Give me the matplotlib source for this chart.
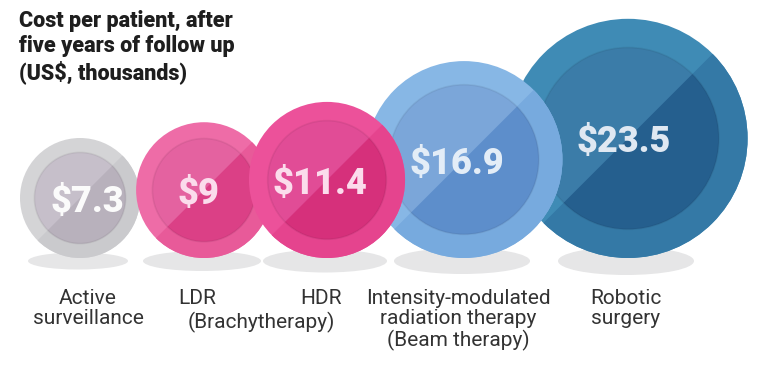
import matplotlib
matplotlib.use("Agg")
import matplotlib.pyplot as plt
from matplotlib.patches import Circle, Wedge, Ellipse
import numpy as np

# data
treatments = ["Active\nsurveillance", "LDR", "HDR",
              "Intensity-modulated\nradiation therapy\n(Beam therapy)",
              "Robotic\nsurgery"]
costs = [7.3, 9, 11.4, 16.9, 23.5]
value_labels = ["$7.3", "$9", "$11.4", "$16.9", "$23.5"]

# styles: (outer light, outer dark, inner light, inner dark, text)
styles = [
    ("#d4d4d6", "#cacacd", "#c6bfca", "#b8b1bc", "#fbfbfb"),
    ("#ee6ca7", "#e85a99", "#e462a0", "#db4086", "#fbdcec"),
    ("#ec519a", "#e5448e", "#e14c96", "#d6307b", "#fbdcec"),
    ("#87b7e5", "#77aade", "#7ba6d9", "#5d8ecb", "#e3edf7"),
    ("#3f8bb5", "#3479a6", "#3b7ca8", "#255f8e", "#dfe8f2"),
]
# layout (pixels)
centers_x = [80, 204, 327, 464, 628]
zorders = [1, 2, 5, 4, 3]
text_dx = [7, -6, -7, -7, -4]
shadow_w = [100, 118, 124, 136, 136]
shadow_h = [17, 20, 23, 26, 28]

fig = plt.figure(figsize=(7.67, 3.69), dpi=100)
ax = fig.add_axes([0, 0, 1, 1])
ax.set_xlim(0, 767)
ax.set_ylim(369, 0)
ax.axis("off")

base = 258


def radius(v):
    return 60 * (v / costs[0]) ** 0.59


for i, c in enumerate(costs):
    ax.add_patch(Ellipse((centers_x[i] - 2, 261), shadow_w[i], shadow_h[i],
                         facecolor="#e6e6e7", edgecolor="none", zorder=0))

for i, c in enumerate(costs):
    r = radius(c)
    cx, cy = centers_x[i], base - r
    o1, o2, i1, i2, tc = styles[i]
    z = zorders[i]
    # y axis inverted: display lower-right half is theta -45..135 here
    ax.add_patch(Circle((cx, cy), r, facecolor=o1, edgecolor="none", zorder=z))
    ax.add_patch(Wedge((cx, cy), r, -45, 135, facecolor=o2, edgecolor="none", zorder=z))
    ri = r * 0.76
    ax.add_patch(Circle((cx, cy), ri, facecolor=i1, edgecolor="none", zorder=z))
    ax.add_patch(Wedge((cx, cy), ri, -45, 135, facecolor=i2, edgecolor="none", zorder=z))
    ax.add_patch(Circle((cx, cy), ri, facecolor="none", edgecolor=(0, 0, 0, 0.06),
                        linewidth=1.2, zorder=z))
    ax.text(cx + text_dx[i], cy + 4, value_labels[i], color=tc, fontsize=26,
            family="Roboto", fontweight="black", ha="center", va="center",
            zorder=z + 0.5)

# title
ax.text(19, 10, "Cost per patient, after\nfive years of follow up\n(US$, thousands)",
        family="Roboto", fontweight="black", fontsize=15.5, color="#1e1e1e",
        ha="left", va="top", linespacing=1.17)

# category labels
lab = dict(family="Roboto", fontsize=15, color="#333333", va="top",
           linespacing=1.1)
ax.text(88, 289, treatments[0], ha="center", **lab)
ax.text(197, 289, treatments[1], ha="center", **lab)
ax.text(321, 289, treatments[2], ha="center", **lab)
ax.text(261, 312, "(Brachytherapy)", ha="center", **lab)
ax.text(458, 289, treatments[3], ha="center", **lab)
ax.text(626, 289, treatments[4], ha="center", **lab)

fig.savefig("out.png", dpi=100, facecolor="white")
